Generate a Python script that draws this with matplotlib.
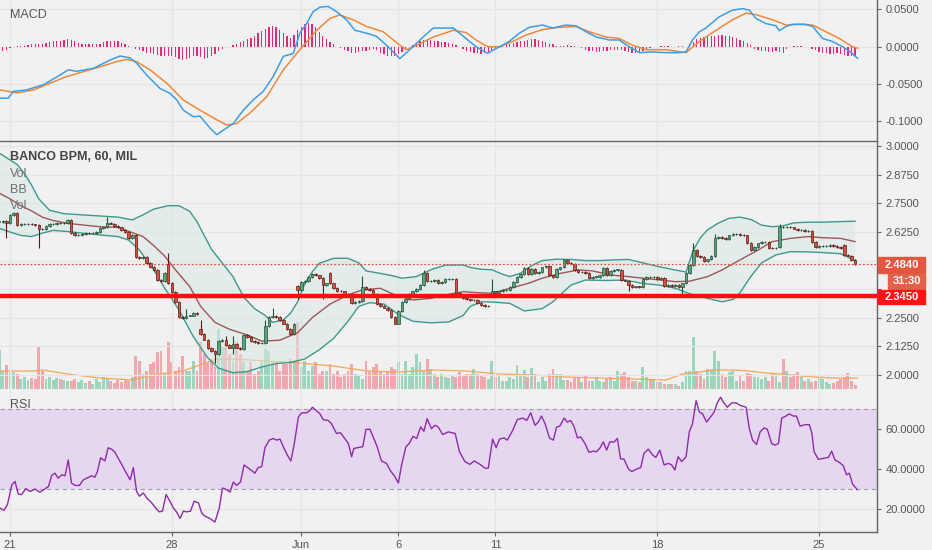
import numpy as np
import matplotlib
matplotlib.use("Agg")
import matplotlib.pyplot as plt
from matplotlib.patches import Rectangle

plt.rcParams['font.family'] = ['Liberation Sans', 'DejaVu Sans']

# ---- data: hourly bars of BANCO BPM (MIL), bar 0 = first hour of 21 May ----
first_bar = -3
close = [  # thousandths of euro
    2670, 2672, 2666, 2700, 2709, 2656, 2660, 2660, 2662, 2658,
    2655, 2640, 2638, 2650, 2660, 2660, 2665, 2663, 2665, 2677,
    2619, 2612, 2612, 2618, 2620, 2619, 2622, 2626, 2641, 2645,
    2663, 2662, 2650, 2645, 2635, 2625, 2600, 2612, 2514, 2510,
    2515, 2488, 2473, 2459, 2415, 2410, 2444, 2401, 2364, 2320,
    2255, 2250, 2260, 2260, 2270, 2268, 2180, 2155, 2118, 2105,
    2090, 2150, 2155, 2130, 2120, 2135, 2120, 2115, 2175, 2165,
    2150, 2145, 2140, 2140, 2215, 2255, 2260, 2255, 2240, 2225,
    2200, 2180, 2225, 2370, 2405, 2410, 2430, 2440, 2435, 2425,
    2395, 2400, 2400, 2380, 2368, 2365, 2355, 2345, 2313, 2320,
    2325, 2386, 2375, 2370, 2355, 2310, 2300, 2295, 2285, 2255,
    2225, 2280, 2320, 2330, 2355, 2365, 2375, 2395, 2444, 2410,
    2410, 2415, 2400, 2405, 2420, 2420, 2420, 2360, 2345, 2335,
    2330, 2328, 2328, 2316, 2306, 2300, 2300, 2365, 2360, 2365,
    2370, 2370, 2385, 2406, 2430, 2440, 2466, 2440, 2465, 2445,
    2450, 2470, 2475, 2435, 2430, 2465, 2470, 2503, 2490, 2487,
    2459, 2450, 2450, 2445, 2423, 2430, 2430, 2435, 2466, 2437,
    2455, 2460, 2460, 2415, 2413, 2393, 2385, 2387, 2383, 2420,
    2430, 2428, 2430, 2420, 2425, 2390, 2392, 2390, 2395, 2385,
    2400, 2445, 2480, 2546, 2520, 2515, 2500, 2505, 2520, 2600,
    2605, 2600, 2595, 2610, 2615, 2615, 2612, 2610, 2576, 2546,
    2560, 2575, 2580, 2580, 2555, 2553, 2555, 2648, 2646, 2648,
    2645, 2640, 2632, 2635, 2628, 2628, 2582, 2561, 2563, 2563,
    2565, 2570, 2562, 2560, 2555, 2524, 2522, 2503, 2484,
]
gap_open = {44: 2485, 53: 2200, 80: 2390, 89: 2445, 134: 2345, 214: 2560, 232: 2568}
wick_high = {27: 2692, 44: 2532, 49: 2290, 53: 2240, 60: 2170, 62: 2170, 71: 2240,
             73: 2293, 80: 2395, 98: 2432, 115: 2460, 134: 2420, 190: 2576, 196: 2615,
             214: 2660}
wick_low = {-1: 2600, 8: 2555, 57: 2054, 62: 2090, 80: 2330, 87: 2330, 172: 2365,
            187: 2345}
volume = [
    39, 18, 24, 17, 17, 15, 10, 12, 9, 11,
    10, 43, 18, 10, 12, 9, 11, 10, 9, 8,
    8, 10, 7, 9, 6, 8, 5, 10, 7, 12,
    11, 8, 6, 9, 7, 10, 8, 12, 33, 28,
    15, 18, 25, 27, 37, 38, 15, 47, 27, 18,
    22, 33, 18, 18, 28, 18, 47, 35, 27, 30,
    22, 60, 42, 45, 35, 28, 47, 35, 27, 18,
    27, 15, 18, 27, 40, 38, 28, 27, 18, 25,
    25, 30, 28, 67, 22, 28, 18, 23, 27, 15,
    18, 18, 25, 15, 18, 12, 15, 18, 25, 15,
    13, 10, 28, 18, 22, 25, 18, 15, 18, 22,
    20, 27, 15, 28, 15, 22, 35, 27, 18, 30,
    20, 15, 12, 15, 12, 11, 13, 12, 17, 14,
    15, 15, 20, 15, 13, 12, 10, 28, 12, 15,
    8, 8, 12, 10, 24, 15, 19, 12, 21, 15,
    7, 12, 8, 15, 20, 15, 15, 9, 9, 7,
    12, 12, 7, 13, 8, 8, 12, 8, 7, 10,
    12, 8, 18, 15, 17, 12, 8, 8, 7, 22,
    12, 10, 10, 7, 7, 5, 5, 5, 5, 3,
    7, 18, 18, 52, 18, 15, 10, 20, 20, 38,
    28, 15, 12, 17, 18, 8, 13, 8, 16, 15,
    12, 12, 10, 12, 8, 15, 15, 7, 30, 18,
    12, 15, 17, 12, 8, 10, 7, 8, 12, 10,
    7, 5, 6, 8, 10, 12, 16, 8, 4,
]
volma_bar = [-2.8, 6.5, 9.3, 15.8, 25, 34.3, 37.1, 41.7, 48.2, 52.8, 57.5, 62.1, 71.4, 76,
             80.6, 89.9, 99.2, 108.4, 117.7, 126.8, 136.1, 145.3, 154.6, 163.9, 173.1,
             182.4, 187, 191.7, 196.3, 201, 205.6, 210.2, 214.8, 219.5, 228.8, 235.7]
volma = [18, 18, 19, 15, 11, 9, 12, 15, 18, 24, 30, 30, 28, 27, 26, 23, 18, 17, 19, 18,
         15, 14, 12, 11, 10, 9, 15, 17, 19, 19, 18, 16, 15, 13, 11, 11]

bb_up_bar = [-3, 0, 2, 4, 6, 8, 11, 15, 20, 25, 30, 34, 37, 40, 44, 47, 50, 52, 54, 56,
             59, 62, 65, 68, 71, 73, 76, 78, 80, 82, 84, 86, 90, 94, 97, 99, 103, 106,
             109, 113, 117, 121, 126, 128, 131, 134, 137, 139, 142, 145, 148, 152, 156,
             160, 164, 168, 172, 176, 180, 184, 188, 190, 192, 194, 197, 200, 203, 206,
             209, 212, 215, 218, 222, 226, 230, 235]
bb_up = [2.97, 2.94, 2.92, 2.88, 2.83, 2.77, 2.72, 2.705, 2.70, 2.695, 2.69, 2.678, 2.70,
         2.725, 2.74, 2.74, 2.715, 2.67, 2.61, 2.55, 2.49, 2.43, 2.34, 2.29, 2.26, 2.23,
         2.24, 2.27, 2.32, 2.40, 2.45, 2.488, 2.51, 2.51, 2.49, 2.455, 2.444, 2.435,
         2.423, 2.43, 2.46, 2.48, 2.481, 2.47, 2.462, 2.46, 2.44, 2.43, 2.445, 2.478,
         2.50, 2.506, 2.505, 2.50, 2.50, 2.503, 2.505, 2.49, 2.475, 2.462, 2.45, 2.545,
         2.60, 2.635, 2.664, 2.685, 2.69, 2.68, 2.655, 2.648, 2.652, 2.665, 2.668,
         2.668, 2.67, 2.672]
bb_mid_bar = [-3, 0, 3, 6, 9, 12, 16, 20, 25, 30, 33, 37, 40, 43, 46, 50, 53, 57, 61, 66,
              70, 75, 80, 84, 89, 94, 98, 103, 107, 112, 117, 121, 126, 130, 134, 139,
              144, 148, 153, 158, 162, 167, 172, 176, 181, 185, 189, 194, 198, 203, 208,
              212, 217, 222, 226, 231, 235]
bb_mid = [2.795, 2.77, 2.74, 2.717, 2.69, 2.675, 2.663, 2.656, 2.648, 2.645, 2.628, 2.605,
          2.565, 2.52, 2.46, 2.386, 2.30, 2.23, 2.20, 2.175, 2.148, 2.152, 2.185, 2.25,
          2.31, 2.35, 2.372, 2.379, 2.35, 2.328, 2.335, 2.35, 2.364, 2.36, 2.357, 2.379,
          2.40, 2.423, 2.444, 2.459, 2.455, 2.437, 2.43, 2.423, 2.415, 2.408, 2.41, 2.43,
          2.459, 2.503, 2.546, 2.583, 2.597, 2.605, 2.60, 2.597, 2.583]
bb_low_bar = [-3, 0, 3, 6, 9, 12, 16, 20, 25, 30, 33, 36, 40, 43, 47, 51, 55, 58, 62, 66,
              70, 74, 78, 82, 86, 90, 94, 97, 100, 104, 108, 112, 117, 122, 126, 128,
              131, 135, 139, 143, 148, 151, 153, 156, 160, 166, 171, 176, 181, 185, 189,
              194, 198, 201, 203, 206, 209, 213, 217, 222, 226, 231, 235]
bb_low = [2.641, 2.625, 2.61, 2.605, 2.62, 2.632, 2.627, 2.62, 2.612, 2.605, 2.59, 2.546,
          2.459, 2.38, 2.284, 2.167, 2.075, 2.03, 2.01, 2.015, 2.035, 2.05, 2.055, 2.07,
          2.11, 2.16, 2.235, 2.30, 2.316, 2.31, 2.265, 2.235, 2.228, 2.232, 2.26, 2.30,
          2.32, 2.318, 2.313, 2.28, 2.29, 2.32, 2.35, 2.393, 2.415, 2.413, 2.415, 2.40,
          2.392, 2.379, 2.355, 2.335, 2.32, 2.33, 2.36, 2.43, 2.49, 2.525, 2.539, 2.538,
          2.535, 2.53, 2.50]

macd_bar = [-2.8, -0.5, 0.9, 4.6, 9.3, 13.9, 16.2, 18.5, 23.2, 27.8, 30.6, 33.4, 35.2, 38,
            41.7, 44.5, 46.3, 48.2, 51, 52.8, 55.6, 57.5, 59.3, 62.1, 64.9, 67.7, 70.4,
            73.2, 76, 78.8, 80.6, 82.5, 84.3, 86.2, 88.5, 90.8, 93.6, 95.9, 99.2, 101.9,
            104.7, 108.4, 111.2, 114.9, 117.7, 123.3, 126.8, 129.6, 132.8, 134.2, 137,
            138.8, 141.6, 144.4, 148.1, 150.9, 154.6, 157.4, 160.2, 163, 166.7, 169.4,
            172.2, 175, 178.7, 182.4, 186.1, 188, 189.8, 191.7, 193.5, 197.2, 200.9,
            203.7, 205.6, 207.4, 210.2, 213, 213.9, 215.8, 217.6, 221.3, 223.2, 226,
            228.7, 231.5, 233.4, 235.7]
macd = [-0.069, -0.069, -0.060, -0.058, -0.051, -0.038, -0.031, -0.033, -0.029, -0.018,
        -0.0125, -0.015, -0.022, -0.038, -0.056, -0.0625, -0.071, -0.085, -0.094, -0.093,
        -0.109, -0.118, -0.112, -0.103, -0.085, -0.071, -0.060, -0.040, -0.013, -0.009,
        0.018, 0.031, 0.047, 0.053, 0.054, 0.047, 0.036, 0.022, 0.018, 0.014, 0.002,
        -0.016, -0.004, 0.013, 0.025, 0.025, 0.011, 0.0, -0.009, -0.005, 0.002, 0.007,
        0.018, 0.026, 0.029, 0.025, 0.029, 0.028, 0.020, 0.013, 0.009, 0.009, 0.0,
        -0.008, -0.007, -0.008, -0.008, -0.007, 0.009, 0.020, 0.025, 0.040, 0.049, 0.051,
        0.049, 0.038, 0.031, 0.028, 0.0215, 0.027, 0.030, 0.030, 0.027, 0.011, 0.007,
        0.0, -0.006, -0.0156]
signal_bar = [-2.8, 1.9, 6.5, 11.1, 15.8, 20.4, 25, 29.7, 32.4, 35.2, 38.9, 43.6, 48.2,
              52.8, 57.5, 60.2, 63, 66.7, 71.4, 76, 80.6, 85.3, 89, 91.7, 95.5, 99.2,
              103.8, 108.4, 110.3, 114, 117.7, 123.3, 126.8, 129.6, 132.8, 136.1, 139.8,
              143.5, 148.1, 152.7, 157.4, 161.1, 165.7, 169.4, 173.1, 176.9, 182.4, 188,
              191.7, 196.3, 200.9, 204.7, 207.4, 212.1, 215.8, 219.5, 223.2, 226.9,
              230.6, 234.3, 235.7]
signal = [-0.058, -0.062, -0.058, -0.049, -0.040, -0.0335, -0.027, -0.020, -0.017, -0.020,
          -0.031, -0.049, -0.0715, -0.085, -0.098, -0.105, -0.103, -0.089, -0.067, -0.031,
          -0.004, 0.022, 0.038, 0.0425, 0.036, 0.027, 0.020, 0.002, -0.004, 0.004, 0.013,
          0.022, 0.019, 0.009, 0.0, 0.0, 0.007, 0.0156, 0.023, 0.026, 0.027, 0.020, 0.013,
          0.011, 0.002, -0.004, -0.004, -0.008, 0.007, 0.022, 0.036, 0.045, 0.043, 0.036,
          0.029, 0.030, 0.029, 0.020, 0.011, 0.0, -0.002]
hist = [  # thousandths, one per bar
    -6, -6, -5, -2, 0, 1, 1, 1, 2, 3,
    3, 4, 4, 5, 6, 7, 8, 8, 9, 10,
    9, 7, 5, 4, 3, 3, 3, 3, 4, 6,
    7, 8, 8, 7, 5, 3, 1, -1, -3, -4,
    -6, -8, -9, -10, -11, -12, -12, -12, -13, -14,
    -16, -18, -17, -15, -13, -12, -14, -16, -15, -13,
    -10, -6, -3, -1, 0, 2, 4, 6, 8, 10,
    12, 14, 18, 21, 24, 26, 28, 27, 22, 18,
    14, 12, 16, 22, 27, 30, 32, 30, 26, 20,
    14, 10, 6, 3, 0, -2, -4, -6, -8, -8,
    -7, -6, -6, -4, -3, -5, -8, -10, -12, -13,
    -12, -10, -7, -4, -1, 2, 5, 7, 9, 10,
    9, 8, 7, 6, 6, 5, 4, 2, -1, -3,
    -6, -7, -8, -9, -10, -9, -7, -5, -3, -1,
    1, 3, 4, 5, 6, 7, 8, 9, 10, 10,
    9, 8, 6, 4, 3, 1, 1, 1, 2, 1,
    1, 0, -2, -4, -6, -6, -7, -7, -6, -6,
    -5, -4, -4, -5, -6, -7, -8, -8, -7, -6,
    -4, -2, -1, 0, 1, 1, 1, 0, 0, 1,
    1, 0, 3, 6, 10, 12, 13, 14, 14, 15,
    16, 16, 15, 14, 13, 11, 9, 7, 5, 2,
    -3, -5, -6, -6, -7, -7, -6, -7, -8, -3,
    0, 1, 1, 1, 0, -1, -3, -5, -7, -8,
    -9, -10, -10, -9, -10, -11, -12, -12, -13,
]

rsi_bar = [-2.8, -1.7, -0.7, 0.5, 1.4, 2.3, 3.2, 4.4, 5.6, 7.0, 8.3, 9.7, 10.7, 11.6, 12.5,
           13.4, 14.4, 15.3, 16.2, 17.1, 18.1, 19.3, 20.4, 21.8, 22.7, 23.6, 24.3, 25.2,
           26.4, 27.3, 28.3, 29.2, 30.1, 31.0, 32.2, 33.4, 34.3, 35.2, 36.0, 37.1, 38,
           39.4, 40.6, 41.5, 42.4, 43.4, 44.5, 45.4, 46.3, 47.3, 48.2, 49.1, 50.2, 51.2,
           52.4, 53.3, 54.2, 55.6, 57, 58.2, 59.1, 60.2, 61.2, 62.1, 63, 64.1, 65.1, 66.3,
           67.2, 68.1, 69.0, 70, 70.9, 72.1, 73.2, 74.1, 75.1, 76, 77.1, 78.1, 79, 80.2,
           81.1, 82.5, 83.4, 84.1, 85.1, 86.2, 87.1, 88.5, 89.4, 90.8, 91.9, 93.1, 94.1,
           95, 95.6, 96.8, 98.1, 99, 100.1, 101, 102.1, 103.3, 104.7, 105.8, 107, 108,
           108.9, 110.1, 111, 112.1, 113.1, 114.2, 115.1, 116.0, 117.2, 118.2, 119.1,
           120.3, 121.9, 123.8, 125, 126.5, 127.9, 129.1, 130.7, 132.1, 133, 134.2, 135.2,
           136.1, 137.4, 138.3, 139.8, 141.1, 142.6, 143.7, 144.8, 146, 146.9, 147.8,
           148.8, 150, 151.1, 152.0, 152.9, 154.1, 155, 155.9, 156.8, 157.8, 158.7, 159.9,
           161, 162.2, 163.1, 164.1, 165, 165.9, 166.8, 168, 168.9, 169.8, 170.7, 172,
           172.9, 174.3, 175.4, 176.3, 177.5, 178.7, 179.6, 180.7, 181.9, 183.1, 184,
           184.9, 185.8, 186.8, 188, 188.9, 189.8, 190.8, 191.7, 192.6, 193.7, 194.8,
           195.8, 196.7, 197.6, 198.5, 199.5, 200.7, 201.9, 203.2, 204.7, 205.6, 206.5,
           207.6, 208.6, 209.7, 210.6, 211.8, 212.7, 213.7, 214.6, 215.8, 216.7, 217.8,
           218.7, 219.7, 221.1, 222.3, 223, 223.6, 224.8, 226.2, 227.6, 228.5, 229.4,
           230.6, 231.7, 232.6, 233.4, 234.3, 235.6]
rsi = [20.6, 19.3, 22.3, 32.1, 33.8, 27.5, 27.2, 30.2, 28.8, 30, 28.4, 30, 31.3, 36.8, 37.9,
       35.4, 37.1, 36.6, 44.5, 33, 31.8, 31.8, 34.6, 35.8, 36.6, 35.9, 38.7, 45.6, 44, 50.6,
       49.8, 48.3, 45.3, 42.5, 38.4, 34.6, 40.7, 28.8, 26.4, 28, 25.6, 23.1, 20.3, 18.6,
       19, 27.2, 23.9, 20.6, 18.6, 15.3, 19, 18.6, 19, 23.9, 23.1, 18.1, 16.5, 15.3, 13.5,
       20.6, 30.5, 29.7, 28.5, 33.5, 31.8, 33.5, 42, 40.4, 39.2, 37.9, 40.7, 41.2, 50.6,
       54.4, 55.2, 54.4, 54.9, 51.1, 47, 44, 51.9, 65.9, 68, 68, 69.2, 70.8, 69.2, 67.5,
       64.6, 64.2, 62.6, 57.7, 58.1, 55.2, 52.7, 46.1, 50.2, 50.7, 51.1, 59.8, 59.8, 56,
       51.1, 44, 42.8, 39.1, 36.3, 33, 42, 51.1, 52.7, 56.3, 55.2, 61, 58.8, 65.1, 60.1,
       61.8, 60.9, 57.2, 58.5, 57.7, 48.6, 43.7, 42.3, 44, 42.3, 40.4, 40.4, 54.9, 50.6,
       54.9, 55.5, 54.4, 59.3, 64.7, 65.4, 64.2, 68, 61.8, 63.4, 66.4, 62.6, 55.5, 54.4,
       60.9, 61.4, 65.4, 63.4, 64.2, 61.4, 55.5, 56, 52.7, 48.3, 48.9, 48.6, 50.6, 53.5,
       49.4, 53.5, 53.5, 55.2, 45, 45, 40, 38.7, 40, 40.7, 47.8, 49.9, 47, 45.8, 49.4, 42,
       42.8, 42, 39.5, 46.1, 43.7, 46.1, 58.5, 62.6, 74.1, 68.4, 67.5, 63.4, 65.9, 68.4,
       73, 75.8, 73, 70.8, 73, 73, 71.6, 70.8, 60.1, 54.4, 52.2, 58.5, 60.5, 59.8, 52.7,
       51.9, 52.7, 65.4, 66.4, 67.5, 66.4, 66.4, 61.4, 62.1, 62.1, 57.7, 48.6, 44.8, 45.3,
       45.8, 48.9, 44.5, 43.3, 41.7, 37.1, 37.9, 32.5, 29.7]

day_bars = [0, 45, 81, 108, 135, 180, 225]
day_labels = ['21', '28', 'Jun', '6', '11', '18', '25']
price_ticks = [2.0, 2.125, 2.25, 2.375, 2.5, 2.625, 2.75, 2.875, 3.0]
covered_ticks = [2.375, 2.5]   # hidden behind the price tags
last_price = 2.484
support = 2.345

# ---- build OHLC ----
bars = np.arange(first_bar, first_bar + len(close))
c = np.array(close) / 1000
o = np.r_[c[0], c[:-1]]
for k, v in gap_open.items():
    o[k - first_bar] = v / 1000
hi = np.maximum(o, c) + 0.004
lo = np.minimum(o, c) - 0.004
for k, v in wick_high.items():
    hi[k - first_bar] = v / 1000
for k, v in wick_low.items():
    lo[k - first_bar] = v / 1000
up = c >= o

bg = '#f1f1f1'
grid_c = '#e5e5e5'
txt_c = '#555555'
W, H = 932, 550

fig = plt.figure(figsize=(9.32, 5.5), dpi=100, facecolor=bg)


def panel(top, bottom):
    return fig.add_axes([0, 1 - bottom / H, 877 / W, (bottom - top) / H])


def style(a, ticks, lim, hide=()):
    a.set_facecolor(bg)
    a.set_xlim(-2.78, 241.1)
    a.set_ylim(*lim)
    a.yaxis.tick_right()
    a.set_yticks(ticks)
    a.set_yticklabels(['' if t in hide else f'{t:.4f}' for t in ticks])
    a.set_xticks(day_bars)
    a.grid(True, color=grid_c, lw=0.9)
    a.set_axisbelow(True)
    a.tick_params(axis='y', length=3, labelsize=8, colors='#666666', labelcolor=txt_c, pad=3)
    a.tick_params(axis='x', length=0, labelbottom=False)
    a.spines['left'].set_visible(False)
    for s in ['right', 'top', 'bottom']:
        a.spines[s].set_color('#666666')
        a.spines[s].set_linewidth(1.0)


# ---- MACD ----
mx = panel(0, 140)
style(mx, [0.05, 0.0, -0.05, -0.1], (-0.1251, 0.0626))
mx.spines['top'].set_visible(False)
mx.spines['bottom'].set_visible(False)
mx.bar(bars, np.array(hist) / 1000, width=0.35, color='#e3287a')
mx.plot(signal_bar, signal, color='#f0883a', lw=1.1)
mx.plot(macd_bar, macd, color='#3d9de6', lw=1.1)

# ---- price + volume ----
vx = panel(141, 389)
vx.set_facecolor(bg)
vx.set_xlim(-2.78, 241.1)
vx.set_ylim(0, 248)
vx.set_xticks([])
vx.set_yticks([])
for s in vx.spines.values():
    s.set_visible(False)
vx.bar(bars, volume, width=0.8, color=np.where(up, '#9dd5bc', '#f2a7ae'))
vx.plot(volma_bar, volma, color='#f5a55a', lw=0.9)

ax = panel(141, 389)
ax.patch.set_visible(False)
style(ax, price_ticks, (1.9388, 3.0227), hide=covered_ticks)
ax.spines['bottom'].set_visible(False)

ax.fill(np.r_[bb_up_bar, bb_low_bar[::-1]], np.r_[bb_up, bb_low[::-1]],
        color='#d9e9e6', alpha=0.5, lw=0)
ax.plot(bb_up_bar, bb_up, color='#3f988b', lw=1.0)
ax.plot(bb_low_bar, bb_low, color='#3f988b', lw=1.0)
ax.plot(bb_mid_bar, bb_mid, color='#9d5658', lw=1.0)

ax.vlines(bars, lo, hi, color=np.where(up, '#1f4f35', '#5a1a14'), lw=0.8, zorder=3)
ax.bar(bars, np.maximum(np.abs(c - o), 0.0015), bottom=np.minimum(o, c), width=0.7,
       color=np.where(up, '#5aa47f', '#d5533f'),
       edgecolor=np.where(up, '#1f4f35', '#5a1a14'), lw=0.5, zorder=4)

ax.axhline(last_price, color='#e0533f', lw=0.9, ls=(0, (1.5, 1.5)), zorder=5)
ax.axhline(support, color='#ff0d0d', lw=3.2, zorder=6)

# ---- RSI ----
rx = panel(390, 532)
style(rx, [20, 40, 60], (8.56, 79.4))
rx.spines['top'].set_visible(False)
rx.axhspan(30, 70, color='#e6d7f1', lw=0, zorder=0.6)
rx.axhline(70, color='#a49aae', lw=0.8, ls=(0, (4, 3)), zorder=1)
rx.axhline(30, color='#a49aae', lw=0.8, ls=(0, (4, 3)), zorder=1)
rx.plot(rsi_bar, rsi, color='#8f2aa8', lw=1.0, zorder=3)
rx.tick_params(axis='x', length=3, labelbottom=True, labelsize=8, colors='#666666',
               labelcolor=txt_c, pad=3)
rx.set_xticklabels(day_labels)

# ---- legends / labels ----
fig.text(10 / W, 1 - 15 / H, 'MACD', fontsize=9, color=txt_c, va='center')
fig.text(10 / W, 1 - 157 / H, 'BANCO BPM, 60, MIL', fontsize=9, color='#444444',
         fontweight='bold', va='center')
for k, name in enumerate(['Vol', 'BB', 'Vol']):
    fig.text(10 / W, 1 - (174 + 16 * k) / H, name, fontsize=9, color='#707070', va='center')
fig.text(10 / W, 1 - 405 / H, 'RSI', fontsize=9, color=txt_c, va='center')

for x0, y0, x1, y1, col, label in [(878, 257, 925, 273, '#e1583f', f'{last_price:.4f}'),
                                   (888, 274, 925, 289, '#e2624c', '31:30'),
                                   (878, 290, 925, 304, '#ff1414', f'{support:.4f}')]:
    fig.add_artist(Rectangle((x0 / W, 1 - y1 / H), (x1 - x0) / W, (y1 - y0) / H,
                             transform=fig.transFigure, color=col, zorder=10))
    fig.text((x0 + x1) / 2 / W, 1 - (y0 + y1) / 2 / H, label, fontsize=8, color='white',
             fontweight='bold', ha='center', va='center', zorder=11)

fig.savefig('out.png', dpi=100, facecolor=bg)
